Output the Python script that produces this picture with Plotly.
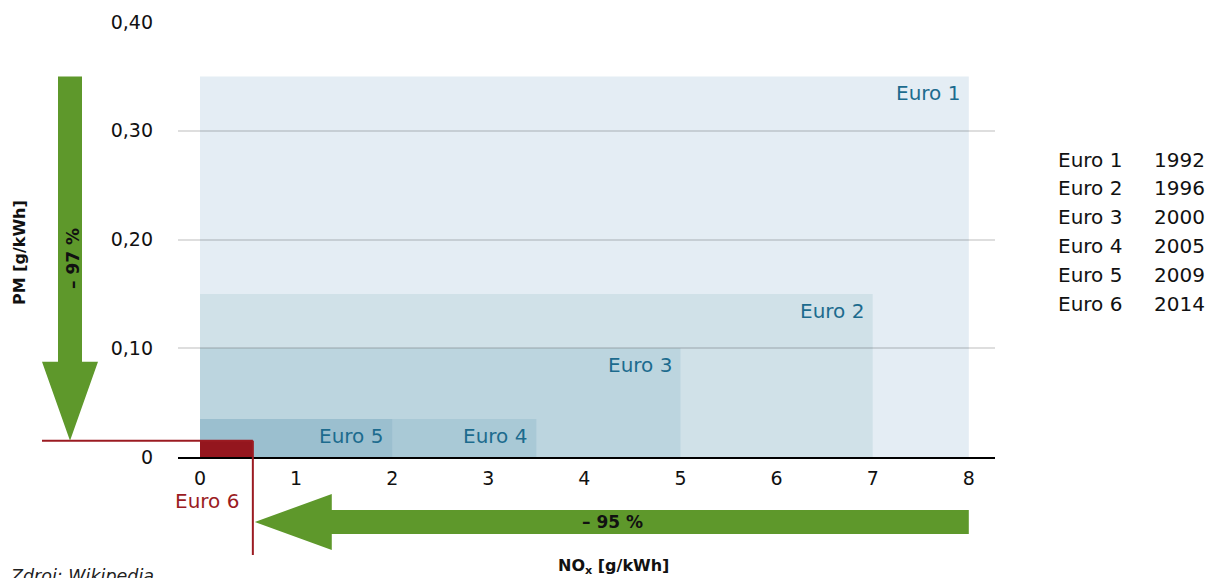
import plotly.graph_objects as go

# ---------------- data ----------------
standards = ["Euro 1", "Euro 2", "Euro 3", "Euro 4", "Euro 5", "Euro 6"]
years = ["1992", "1996", "2000", "2005", "2009", "2014"]
nox_limit = [8.0, 7.0, 5.0, 3.5, 2.0, 0.55]      # g/kWh
pm_limit = [0.35, 0.15, 0.10, 0.035, 0.035, 0.015]  # g/kWh
nox_reduction = "– 95 %"
pm_reduction = "– 97 %"
x_ticks = [0, 1, 2, 3, 4, 5, 6, 7, 8]
y_ticks = [0, 0.10, 0.20, 0.30, 0.40]
y_ticktext = ["0", "0,10", "0,20", "0,30", "0,40"]

# ---------------- styles ----------------
FONT = "DejaVu Sans"
rect_colors = ["#e4edf4", "#d0e1e8", "#bcd5df", "#a9c9d6", "#9bbfcf", "#94161e"]
label_color = "#1c6b8e"
red = "#9b1b22"
green = "#5e982b"

W, H = 1212, 578
L, R, T, B = 178, 995, 22, 457
XMIN, XMAX = -22 / 96.1, 795 / 96.1
YMIN, YMAX = 0.0, 0.40


def px2paper_x(px):
    return (px - L) / (R - L)


def px2paper_y(py):
    return (B - py) / (B - T)


def data2paper_x(x):
    return (x - XMIN) / (XMAX - XMIN)


def data2paper_y(y):
    return (y - YMIN) / (YMAX - YMIN)


fig = go.Figure()
# invisible trace to establish axes
fig.add_trace(go.Scatter(x=[0, 8], y=[0, 0.4], mode="markers",
                         marker=dict(opacity=0), hoverinfo="skip", showlegend=False))

shapes = []
annotations = []

# standard rectangles
for i, (name, nx, p) in enumerate(zip(standards, nox_limit, pm_limit)):
    shapes.append(dict(type="rect", xref="x", yref="y", x0=0, x1=nx, y0=0, y1=p,
                       fillcolor=rect_colors[i], line=dict(width=0), layer="below"))

# labels inside rectangles (Euro 1..5)
for name, nx, p in zip(standards[:5], nox_limit[:5], pm_limit[:5]):
    annotations.append(dict(xref="x", yref="y", x=nx, y=p, text=name, showarrow=False,
                            xanchor="right", yanchor="middle", xshift=-7, yshift=-17,
                            font=dict(family=FONT, size=20, color=label_color)))

# Euro 6 red guide lines
e6x, e6y = nox_limit[5], pm_limit[5]
shapes.append(dict(type="line", xref="paper", yref="y",
                   x0=px2paper_x(42), x1=data2paper_x(e6x), y0=e6y, y1=e6y,
                   line=dict(color=red, width=2), layer="above"))
shapes.append(dict(type="line", xref="x", yref="paper",
                   x0=e6x, x1=e6x, y0=data2paper_y(e6y), y1=px2paper_y(555),
                   line=dict(color=red, width=2), layer="above"))
annotations.append(dict(xref="x", yref="paper", x=0.07, y=px2paper_y(501), text=standards[5],
                        showarrow=False, xanchor="center", yanchor="middle",
                        font=dict(family=FONT, size=20, color=red)))

# vertical green arrow (PM reduction): from Euro 1 PM down to Euro 6 PM
sx0, sx1 = px2paper_x(58), px2paper_x(82)
hx0, hx1, hxc = px2paper_x(42), px2paper_x(98), px2paper_x(70)
head_len_y = 79 / (B - T) * (YMAX - YMIN)
hb = e6y + head_len_y
top = pm_limit[0]
path_v = (f"M {sx0},{top} L {sx1},{top} L {sx1},{hb} L {hx1},{hb} "
          f"L {hxc},{e6y} L {hx0},{hb} L {sx0},{hb} Z")
shapes.append(dict(type="path", xref="paper", yref="y", path=path_v,
                   fillcolor=green, line=dict(width=0), layer="above"))
annotations.append(dict(xref="paper", yref="paper", x=px2paper_x(73), y=px2paper_y(259),
                        xanchor="center", yanchor="middle",
                        text=f"<b>{pm_reduction}</b>", textangle=-90, showarrow=False,
                        font=dict(family=FONT, size=17, color="#111111")))

# horizontal green arrow (NOx reduction): from Euro 1 NOx to Euro 6 NOx
tip_x = e6x + 0.02
right_x = nox_limit[0]
head_len_x = 77 / 96.1
hbx = tip_x + head_len_x
sy0, sy1 = px2paper_y(510), px2paper_y(534)
hy0, hy1, hyc = px2paper_y(494), px2paper_y(550), px2paper_y(522)
path_h = (f"M {right_x},{sy0} L {right_x},{sy1} L {hbx},{sy1} L {hbx},{hy1} "
          f"L {tip_x},{hyc} L {hbx},{hy0} L {hbx},{sy0} Z")
shapes.append(dict(type="path", xref="x", yref="paper", path=path_h,
                   fillcolor=green, line=dict(width=0), layer="above"))
annotations.append(dict(xref="paper", yref="paper", x=px2paper_x(612), y=px2paper_y(522),
                        xanchor="center", yanchor="middle",
                        text=f"<b>{nox_reduction}</b>", showarrow=False,
                        font=dict(family=FONT, size=17, color="#111111")))

# axis titles
annotations.append(dict(xref="paper", yref="paper", x=px2paper_x(20), y=px2paper_y(253),
                        xanchor="center", yanchor="middle",
                        text="<b>PM [g/kWh]</b>", textangle=-90, showarrow=False,
                        font=dict(family=FONT, size=16, color="#111111")))
annotations.append(dict(xref="paper", yref="paper", x=px2paper_x(613), y=px2paper_y(566),
                        xanchor="center", yanchor="middle",
                        text="<b>NO<sub>x</sub> [g/kWh]</b>", showarrow=False,
                        font=dict(family=FONT, size=16, color="#111111")))

# source
annotations.append(dict(xref="paper", yref="paper", x=px2paper_x(8), y=px2paper_y(564),
                        text="<i>Zdroj: Wikipedia</i>", showarrow=False,
                        xanchor="left", yanchor="top",
                        font=dict(family=FONT, size=17.5, color="#222222")))

# right-side table of years
row_y = [160, 188, 217, 246, 275, 304]
for name, yr, ry in zip(standards, years, row_y):
    annotations.append(dict(xref="paper", yref="paper", x=px2paper_x(1056), y=px2paper_y(ry),
                            text=name, showarrow=False, xanchor="left", yanchor="middle",
                            font=dict(family=FONT, size=20, color="#111111")))
    annotations.append(dict(xref="paper", yref="paper", x=px2paper_x(1152), y=px2paper_y(ry),
                            text=yr, showarrow=False, xanchor="left", yanchor="middle",
                            font=dict(family=FONT, size=20, color="#111111")))

fig.update_layout(
    width=W, height=H,
    margin=dict(l=L, r=W - R, t=T, b=H - B, pad=0),
    paper_bgcolor="white", plot_bgcolor="white",
    showlegend=False,
    font=dict(family=FONT, size=19, color="#111111"),
    shapes=shapes, annotations=annotations,
    xaxis=dict(range=[XMIN, XMAX], tickvals=x_ticks, ticktext=[str(v) for v in x_ticks],
               showgrid=False, zeroline=False, showline=True, linecolor="#000000",
               linewidth=2, ticks="", ticklabelstandoff=3,
               tickfont=dict(family=FONT, size=19, color="#111111"), fixedrange=True),
    yaxis=dict(range=[YMIN, YMAX], tickvals=y_ticks, ticktext=y_ticktext,
               showgrid=True, gridcolor="rgba(0,0,0,0.13)", gridwidth=2,
               zeroline=False, showline=False, ticks="", ticklabelstandoff=24,
               tickfont=dict(family=FONT, size=19, color="#111111"), fixedrange=True),
)

fig.write_html("out.html")
